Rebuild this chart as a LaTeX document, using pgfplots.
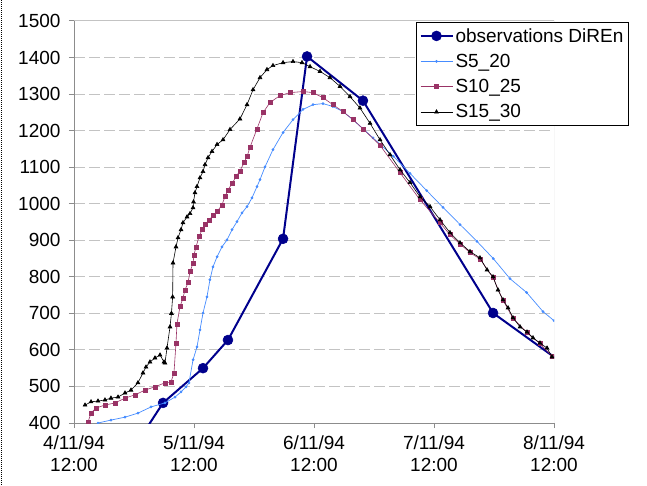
\documentclass[border=0pt]{standalone}
\usepackage{fontspec}
\setmainfont{Liberation Sans}
\usepackage{pgfplots}
\pgfplotsset{compat=1.18}
\definecolor{obs}{RGB}{0,0,140}
\definecolor{lblue}{RGB}{70,140,255}
\definecolor{maroon}{RGB}{153,51,102}
\definecolor{gridc}{RGB}{195,195,195}
\definecolor{axc}{RGB}{140,140,140}
\begin{document}
\begin{tikzpicture}[x=1pt,y=1pt]
\useasboundingbox (0,0) rectangle (647,485);
\draw[densely dotted, black, line width=1pt] (1.5,0) -- (1.5,485);
\begin{axis}[
  at={(74pt,62pt)}, anchor=south west,
  scale only axis, width=480pt, height=402pt,
  xmin=0, xmax=4, ymin=400, ymax=1500,
  axis lines=left,
  axis line style={-, draw=axc, line width=1pt},
  xtick={0,1,2,3,4},
  xticklabels={{4/11/94\\12:00},{5/11/94\\12:00},{6/11/94\\12:00},{7/11/94\\12:00},{8/11/94\\12:00}},
  xticklabel style={align=center, font=\fontsize{19}{22}\selectfont, yshift=-4pt},
  ytick={400,500,...,1500},
  yticklabel style={font=\fontsize{19}{22}\selectfont, xshift=-5pt},
  /pgf/number format/assume math mode=true,
  /pgf/number format/1000 sep={},
  tick align=outside, major tick length=5pt,
  tick style={draw=axc, line width=1pt},
  ymajorgrids,
  major grid style={draw=gridc, dash pattern=on 11pt off 4pt, line width=1pt},
  clip marker paths=true,
  legend style={at={(0.7125,0.998)}, anchor=north west, draw=black, line width=1pt,
    font=\fontsize{19}{22}\selectfont, row sep=6.5pt, inner xsep=3pt, inner ysep=4pt},
  legend cell align=left,
  legend image code/.code={\draw[mark repeat=2,mark phase=2,#1] plot coordinates {(0pt,0pt) (16pt,0pt) (32pt,0pt)};},
]
\draw[draw=gridc, line width=1pt] (rel axis cs:0,1) -- (rel axis cs:1,1) -- (rel axis cs:1,0);
\addplot[obs, line width=2pt, mark=*, mark size=5pt, mark options={fill=obs, line width=0.5pt}] coordinates {
(0.5,333) (0.742,455) (1.075,550) (1.283,627) (1.742,904) (1.942,1403) (2.408,1282) (3.492,701) (4.1,557)
};
\addlegendentry{observations DiREn}
\addplot[lblue, line width=0.7pt, mark=*, mark size=1pt] coordinates {
(0.200,400) (0.308,408) (0.425,416) (0.533,427) (0.642,444) (0.758,455) (0.842,471) (0.892,485) (0.933,499) (0.958,510) (0.992,573) (1.025,608) (1.050,655) (1.075,701) (1.108,745) (1.133,792) (1.158,827) (1.192,855) (1.233,882) (1.275,901) (1.317,929) (1.358,951) (1.400,975) (1.442,992) (1.483,1016) (1.525,1047) (1.550,1066) (1.592,1101) (1.658,1148) (1.742,1195) (1.825,1230) (1.908,1258) (1.992,1271) (2.075,1274) (2.158,1266) (2.242,1252) (2.325,1230) (2.492,1180) (2.661,1130) (2.800,1083) (2.939,1036) (3.075,990) (3.217,943) (3.358,897) (3.494,850) (3.633,795) (3.772,757) (3.908,705) (4.0,680)
};
\addlegendentry{S5\_20}
\addplot[maroon, line width=0.6pt, mark=square*, mark size=2pt] coordinates {
(0.117,403) (0.142,427) (0.183,441) (0.258,449) (0.342,455) (0.425,468) (0.508,477) (0.592,490) (0.675,499) (0.758,510) (0.808,512) (0.833,537) (0.850,619) (0.858,671) (0.883,718) (0.908,742) (0.925,764) (0.950,784) (0.967,814) (0.992,838) (1.000,860) (1.017,882) (1.042,910) (1.067,929) (1.092,943) (1.125,956) (1.158,967) (1.192,978) (1.233,997) (1.258,1019) (1.283,1038) (1.317,1055) (1.350,1074) (1.383,1090) (1.417,1112) (1.442,1129) (1.467,1155) (1.525,1205) (1.575,1249) (1.633,1277) (1.717,1296) (1.800,1304) (1.908,1307) (1.992,1304) (2.075,1290) (2.158,1271) (2.242,1252) (2.325,1230) (2.408,1205) (2.550,1160) (2.717,1085) (2.883,1011) (3.050,948) (3.133,915) (3.217,890) (3.300,866) (3.383,849) (3.492,798) (3.575,736) (3.658,687) (3.775,647) (3.883,617) (3.983,583)
};
\addlegendentry{S10\_25}
\addplot[black, line width=0.6pt, mark=triangle*, mark size=2.2pt] coordinates {
(0.092,449) (0.142,458) (0.200,460) (0.258,463) (0.308,468) (0.367,471) (0.425,482) (0.475,490) (0.533,510) (0.575,537) (0.600,553) (0.633,567) (0.675,578) (0.717,586) (0.750,567) (0.758,564) (0.775,605) (0.800,663) (0.812,700) (0.822,745) (0.825,838) (0.850,882) (0.867,907) (0.892,929) (0.908,948) (0.942,964) (0.967,973) (0.992,989) (0.996,1005) (1.008,1030) (1.025,1047) (1.050,1071) (1.075,1088) (1.092,1107) (1.117,1126) (1.150,1143) (1.192,1162) (1.242,1175) (1.300,1203) (1.383,1232) (1.442,1271) (1.492,1312) (1.550,1345) (1.608,1367) (1.658,1378) (1.742,1386) (1.825,1389) (1.900,1386) (1.967,1375) (2.050,1362) (2.133,1345) (2.217,1321) (2.300,1293) (2.383,1262) (2.467,1220) (2.550,1175) (2.633,1134) (2.717,1093) (2.800,1058) (2.883,1019) (2.967,992) (3.050,956) (3.133,921) (3.217,893) (3.300,869) (3.383,852) (3.442,819) (3.492,800) (3.533,764) (3.575,737) (3.617,715) (3.658,688) (3.717,663) (3.775,649) (3.825,633) (3.883,619) (3.942,605) (3.983,581)
};
\addlegendentry{S15\_30}
\end{axis}
\end{tikzpicture}
\end{document}
